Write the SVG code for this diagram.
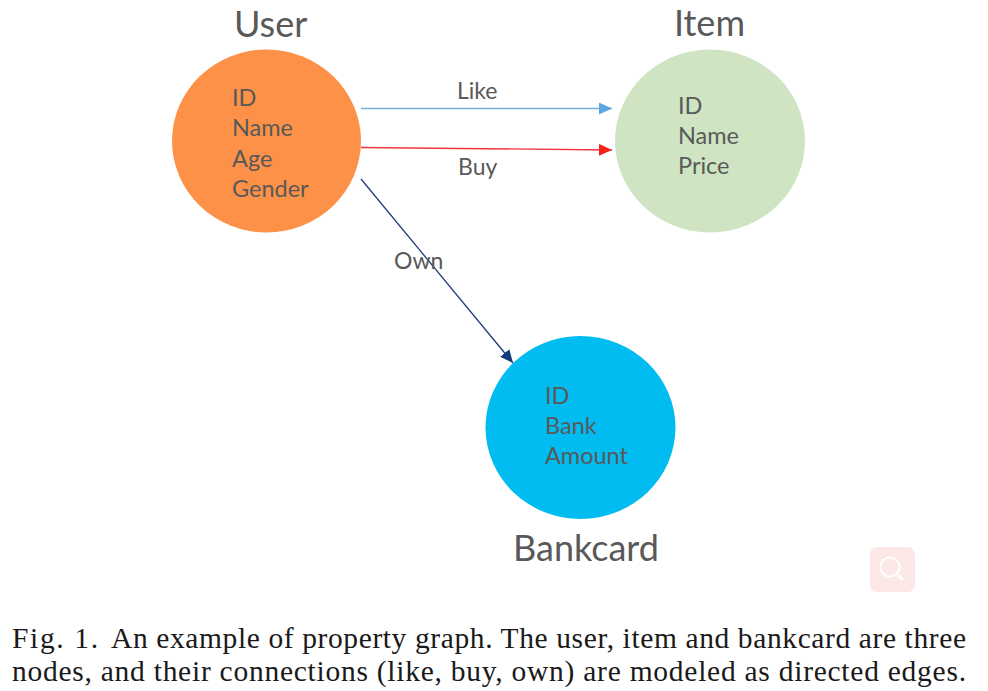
<svg xmlns="http://www.w3.org/2000/svg" width="988" height="691" viewBox="0 0 988 691">
<defs>
<marker id="aBlue" markerUnits="userSpaceOnUse" markerWidth="14" markerHeight="12" refX="13" refY="6" orient="auto"><path d="M0 0L13 6L0 12Z" fill="#5ba7e0"/></marker>
<marker id="aRed" markerUnits="userSpaceOnUse" markerWidth="14" markerHeight="12" refX="13" refY="6" orient="auto"><path d="M0 0L13 6L0 12Z" fill="#f5201c"/></marker>
<marker id="aNavy" markerUnits="userSpaceOnUse" markerWidth="14" markerHeight="12" refX="13" refY="6" orient="auto"><path d="M0 0L13 6L0 12Z" fill="#143a78"/></marker>
</defs>
<style>
.t{font-family:"Lato","Open Sans",sans-serif;fill:#595959}
.a{font-size:23.500px}.h{font-size:36px}.l{font-size:23px}
.c{font-family:"Liberation Serif","Times New Roman",serif;font-size:29.500px;fill:#1a1a1a}
.e{fill:none;stroke-width:1.3}
</style>
<rect width="988" height="691" fill="#fff"/>
<g id="connectors">
<path class="e" stroke="#73b0dc" d="M361 108.500H612" marker-end="url(#aBlue)"/>
<path class="e" stroke="#f0343a" d="M361 147.500L612 150" marker-end="url(#aRed)"/>
<path class="e" stroke="#1f3d7a" d="M361 179L513 363" marker-end="url(#aNavy)"/>
<text class="t l" x="457" y="99">Like</text>
<text class="t l" x="458" y="175">Buy</text>
<text class="t l" x="394" y="269">Own</text>
</g>
<g id="user">
<ellipse cx="266.500" cy="141" rx="94.500" ry="91.500" fill="#fd9148"/>
<text class="t h" x="234" y="37">User</text>
<text class="t a" x="232" y="106">ID</text>
<text class="t a" x="232" y="136">Name</text>
<text class="t a" x="232" y="167">Age</text>
<text class="t a" x="232" y="197">Gender</text>
</g>
<g id="item">
<ellipse cx="710" cy="141" rx="95" ry="91.500" fill="#cee4c2"/>
<text class="t h" x="674" y="36">Item</text>
<text class="t a" x="678" y="114">ID</text>
<text class="t a" x="678" y="144">Name</text>
<text class="t a" x="678" y="174">Price</text>
</g>
<g id="bankcard">
<ellipse cx="580.500" cy="427.500" rx="95" ry="91.500" fill="#00bcf0"/>
<text class="t h" x="513" y="561">Bankcard</text>
<text class="t a" x="545" y="404">ID</text>
<text class="t a" x="545" y="434">Bank</text>
<text class="t a" x="545" y="464">Amount</text>
</g>
<g id="watermark">
<rect x="870" y="547" width="45" height="45" rx="7" fill="#fde8e8"/>
<circle cx="890" cy="567" r="9.500" fill="none" stroke="#fff" stroke-width="2"/>
<path d="M898 575L903 580" stroke="#fff" stroke-width="3" fill="none"/>
</g>
<text class="c" x="12" y="648" textLength="86">Fig. 1.</text>
<text class="c" x="111" y="648" textLength="855">An example of property graph. The user, item and bankcard are three</text>
<text class="c" x="12" y="681" textLength="954">nodes, and their connections (like, buy, own) are modeled as directed edges.</text>
</svg>
